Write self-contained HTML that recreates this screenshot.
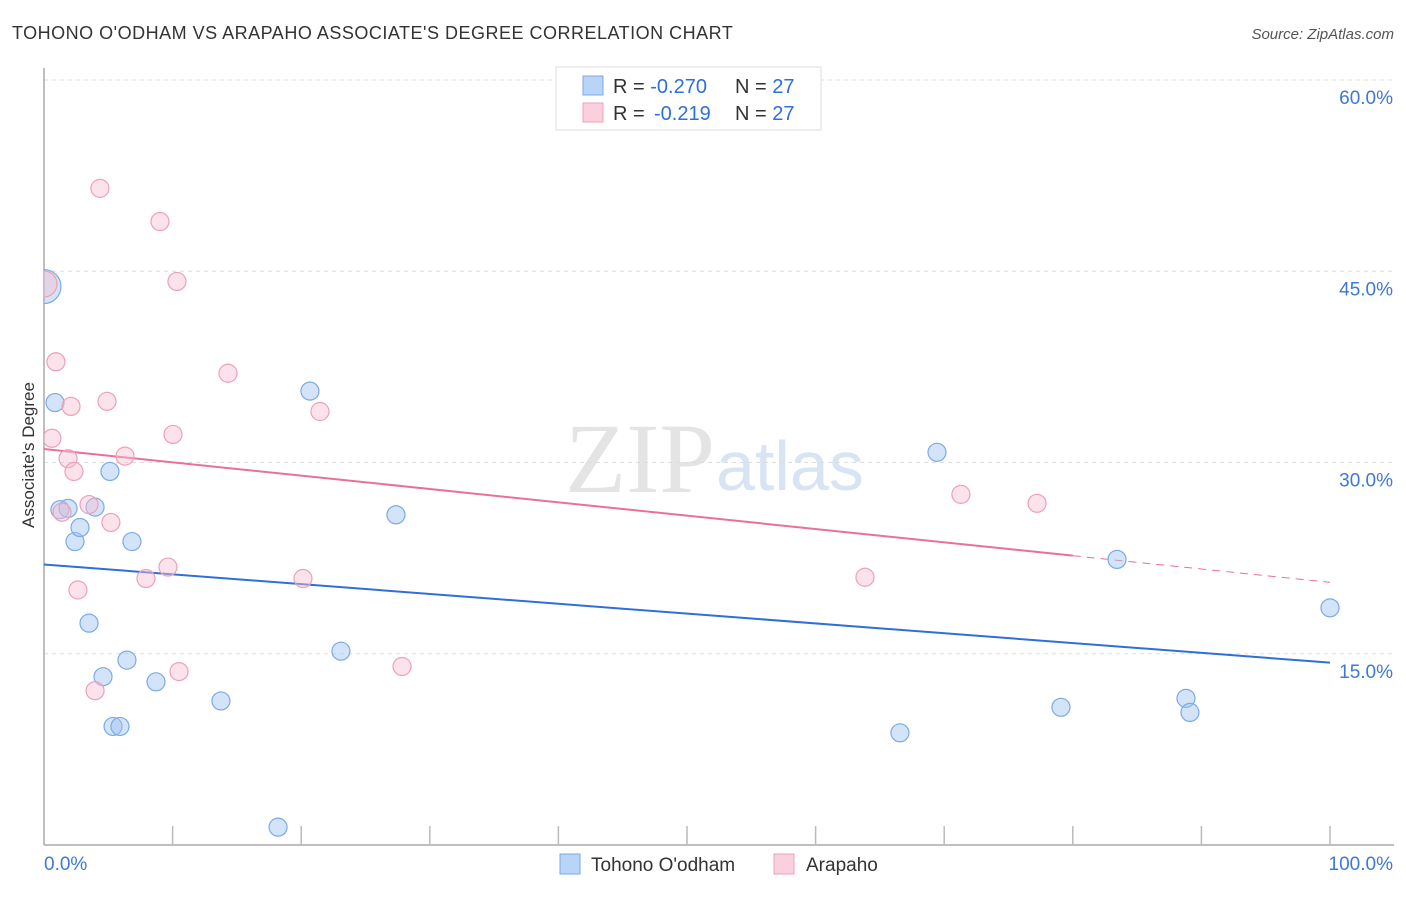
<!DOCTYPE html>
<html><head><meta charset="utf-8"><style>
body{margin:0;background:#fff;font-family:"Liberation Sans",sans-serif;}
</style></head><body>
<svg id="chart" width="1406" height="892" xmlns="http://www.w3.org/2000/svg">
<defs><clipPath id="plotclip"><rect x="44" y="60" width="1362" height="790"/></clipPath></defs>
<text x="12" y="39" font-size="18" fill="#333" letter-spacing="0.5">TOHONO O'ODHAM VS ARAPAHO ASSOCIATE'S DEGREE CORRELATION CHART</text>
<text x="1394" y="39" font-size="15" fill="#555" font-style="italic" text-anchor="end">Source: ZipAtlas.com</text>
<text x="715" y="492" font-size="100" fill="#e4e4e4" text-anchor="end" font-family="Liberation Serif">ZIP</text>
<text x="716" y="490" font-size="70" fill="#d8e4f4">atlas</text>
<g id="grid"></g>
<g id="axes"></g>
<g id="trends"></g>
<g id="points" clip-path="url(#plotclip)"></g>
<text x="34" y="455" font-size="17" fill="#333" text-anchor="middle" transform="rotate(-90 34 455)">Associate's Degree</text>
<g>
<rect x="556" y="67" width="265" height="63" fill="#fff" stroke="#ddd"/>
<rect x="583" y="76" width="20" height="19" fill="#b8d4f6" stroke="#7aaae8"/>
<text x="613" y="93" font-size="20" fill="#333">R = <tspan fill="#2f6fd8">-0.270</tspan><tspan x="735">N = </tspan><tspan fill="#2f6fd8">27</tspan></text>
<rect x="583" y="103" width="20" height="19" fill="#fbd0dd" stroke="#eea0b8"/>
<text x="613" y="120" font-size="20" fill="#333">R =  <tspan x="654" fill="#2f6fd8">-0.219</tspan><tspan x="735">N = </tspan><tspan fill="#2f6fd8">27</tspan></text>
</g>
<g>
<rect x="560" y="854" width="20" height="20" fill="#b8d4f6" stroke="#7aaae8"/>
<text x="591" y="871" font-size="19" fill="#333">Tohono O'odham</text>
<rect x="774" y="854" width="20" height="20" fill="#fbd0dd" stroke="#eea0b8"/>
<text x="806" y="871" font-size="19" fill="#333">Arapaho</text>
</g>
</svg>
<script>
const yTicks=[15,30,45,60];
const yTickLabels=["15.0%","30.0%","45.0%","60.0%"];
const xTickLabels=["0.0%","100.0%"];
const tohonoX=[0,0.86,1.24,1.87,2.41,2.8,3.5,3.97,4.59,5.13,5.37,5.91,6.45,6.84,8.71,13.76,18.2,20.68,23.09,27.37,66.56,69.44,79.08,83.44,88.8,89.11,100];
const tohonoY=[43.8,34.7,26.3,26.4,23.8,24.9,17.4,26.5,13.2,29.3,9.3,9.3,14.5,23.8,12.8,11.3,1.4,35.6,15.2,25.9,8.8,30.8,10.8,22.4,11.5,10.4,18.6];
const arapahoX=[0,0.62,0.93,1.4,1.87,2.1,2.33,2.64,3.5,3.97,4.35,4.9,5.2,6.3,7.93,9.02,9.64,10.03,10.34,10.5,14.31,20.14,21.46,27.84,63.84,71.3,77.22];
const arapahoY=[44.0,31.9,37.9,26.1,30.3,34.4,29.3,20.0,26.7,12.1,51.5,34.8,25.3,30.5,20.9,48.9,21.8,32.2,44.2,13.6,37.0,20.9,34.0,14.0,21.0,27.5,26.8];
const tohonoTrend=[22.0,14.3];
const arapahoTrend=[31.06,20.6];
const NS="http://www.w3.org/2000/svg";
const X0=44,X1=1330,Y0=845,Y60=80;
const sx=v=>X0+v*(X1-X0)/100;
const sy=v=>Y0-v*(Y0-Y60)/60;
function mk(tag,attrs,parent){const e=document.createElementNS(NS,tag);for(const k in attrs)e.setAttribute(k,attrs[k]);document.getElementById(parent).appendChild(e);return e;}
yTicks.forEach((t,i)=>{
 const g=mk('line',{x1:X0,x2:1394,y1:sy(t),y2:sy(t),stroke:'#ddd','stroke-dasharray':'4,4'},'grid');
 
 
 const l=mk('text',{x:1393,y:sy(t)+24,'font-size':19,fill:'#3d78d8','text-anchor':'end'},'grid');
 l.textContent=yTickLabels[i];
 
 
});
const ya=mk('line',{x1:X0,x2:X0,y1:68,y2:Y0,stroke:'#aaa','stroke-width':1.5},'axes');


const xa=mk('line',{x1:X0,x2:1394,y1:Y0,y2:Y0,stroke:'#aaa','stroke-width':1.5},'axes');


for(let i=1;i<=10;i++){
 const t=mk('line',{x1:sx(i*10),x2:sx(i*10),y1:826,y2:Y0,stroke:'#bbb','stroke-width':1.5},'axes');
 
 
}
const xl0=mk('text',{x:44,y:870,'font-size':19,fill:'#3d78d8'},'axes');xl0.textContent=xTickLabels[0];


const xl1=mk('text',{x:1393,y:870,'font-size':19,fill:'#3d78d8','text-anchor':'end'},'axes');xl1.textContent=xTickLabels[1];


const tb=mk('line',{x1:sx(0),y1:sy(tohonoTrend[0]),x2:sx(100),y2:sy(tohonoTrend[1]),stroke:'#2f6fd8','stroke-width':2},'trends');


const pm=v=>arapahoTrend[0]+(arapahoTrend[1]-arapahoTrend[0])*v/100;
const tp=mk('line',{x1:sx(0),y1:sy(pm(0)),x2:sx(80),y2:sy(pm(80)),stroke:'#e8709a','stroke-width':2},'trends');


const tpd=mk('line',{x1:sx(80),y1:sy(pm(80)),x2:sx(100),y2:sy(pm(100)),stroke:'#e8709a','stroke-width':1,'stroke-dasharray':'8,6'},'trends');


function pts(xs,ys,fill,stroke,name,big){
 xs.forEach((x,i)=>{
  const c=mk('circle',{cx:sx(x),cy:sy(ys[i]),r:(x===0?big:9),fill:fill,stroke:stroke,'stroke-width':1.2},'points');
  
  
 });
}
pts(tohonoX,tohonoY,'rgba(160,196,240,0.45)','#7aaae8','tohono-point',17);
pts(arapahoX,arapahoY,'rgba(248,190,208,0.45)','#eea0b8','arapaho-point',13);
</script>
</body></html>
